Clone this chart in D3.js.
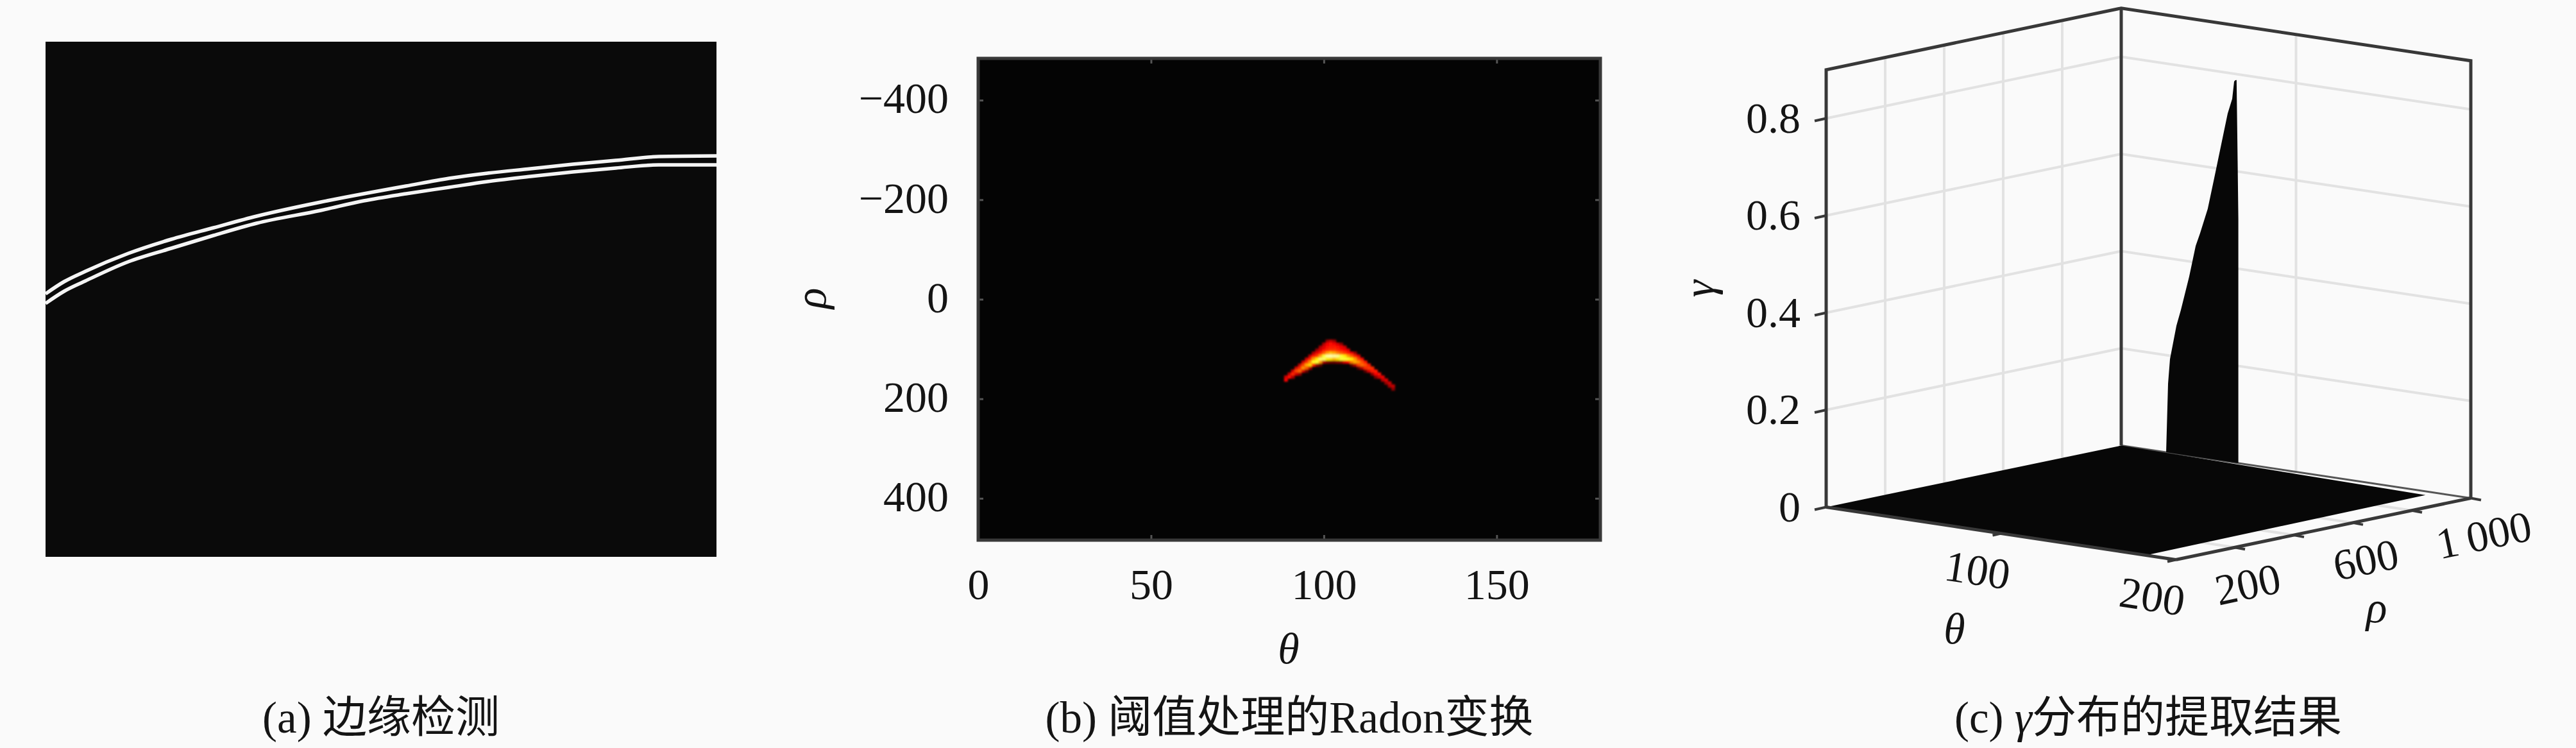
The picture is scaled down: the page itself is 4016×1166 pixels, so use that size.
<!DOCTYPE html>
<html><head><meta charset="utf-8">
<script src="https://cdn.jsdelivr.net/npm/d3@7"></script>
<style>
html,body{margin:0;padding:0;background:#fafafa;overflow:hidden}
svg{display:block}
text{font-family:"Liberation Serif","Noto Sans CJK SC",serif;fill:#141414}
.it{font-style:italic}
.domain{display:none}
</style></head><body>
<svg id="c" width="4016" height="1166"></svg>
<script>
// ---- panel (a): edge curves, image pixel coordinates
const edgeX      = [0,29,62,129,196,262,329,429,496,562,629,689,756,822,889,956,1046];
const edgeUpperY = [393,374,358,330,308,290,272,250,237,225,213,205,198,191,185,179,178];
const edgeLowerY = [408,389,373,343,322,302,283,263,248,237,227,218,210,203,197,192,192];
// ---- panel (b): thresholded Radon transform
const radonTheta = [89,90,91,92,93,94,95,96,97,98,99,100,101,102,103,104,105,106,107,108,109,110,111,112,113,114,115,116,117,118,119,120];
const radonStart = [156,150,144,138,132,126,120,114,108,102,96,90,84,84,84,90,90,96,102,108,108,114,120,126,132,138,144,150,156,162,168,174];
const radonValues = [
 [.3,.36],[.28,.38],[.3,.42,.25],[.3,.46,.3],[.28,.42,.52,.22],[.3,.45,.58,.3],
 [.3,.42,.62,.5,.15],[.28,.4,.58,.68,.25],[.25,.38,.6,.78,.4],[.22,.33,.45,.72,.8,.2],
 [.25,.3,.4,.6,.85,.6,.12],[.25,.32,.38,.5,.8,.85,.25],[.22,.35,.38,.42,.6,.9,.72,.18],
 [.28,.38,.4,.45,.65,.92,.7,.15],[.22,.35,.4,.45,.62,.9,.65,.15],[.3,.38,.42,.55,.88,.7,.18],
 [.2,.35,.38,.5,.8,.8,.2],[.3,.36,.45,.72,.8,.3],[.32,.4,.6,.78,.35],[.35,.5,.72,.55,.12],
 [.22,.4,.6,.62,.25],[.32,.45,.58,.45,.12],[.35,.48,.52,.25],[.38,.48,.42,.12],[.4,.45,.3],
 [.42,.4,.2],[.4,.36,.18],[.38,.3],[.34,.26],[.32,.22],[.3,.24],[.28,.2]];
const radonThetaTicks = [0,50,100,150];
const radonRhoTicks = [-400,-200,0,200,400];
// ---- panel (c): extracted gamma distribution
const gammaTicks = [0,0.2,0.4,0.6,0.8];
const gammaLabels = ["0","0.2","0.4","0.6","0.8"];
const thetaTicks3d = [100,200];
const rhoTicks3d = [200,400,600,800,1000];
const rhoLabels3d = ["200","","600","","1\u2009000"];
const surfaceTheta = [0,0,180,183];
const surfaceRho   = [0,1000,965,5];
const spikeRho = 1000;
const spikeTheta = [25.7,26.8,27.9,31.6,34.1,38.9,42.6,45.1,49.5,53.2,55.4,58.7,60.9,63.5,64.6,65.3,66,66.6,67,67];
const spikeGamma = [0,.142,.193,.264,.297,.369,.434,.461,.514,.579,.618,.677,.716,.748,.784,.787,.788,.622,.503,0];
const captions = ["(a) 边缘检测","(b) 阈值处理的Radon变换"];

const svg = d3.select("#c");
const FS = 68, CAP = 69, ink="#383838";

// ================= panel a
const ax = d3.scaleLinear().domain([0,1046]).range([71,1117]);
const ay = d3.scaleLinear().domain([0,803]).range([65,868]);
svg.append("clipPath").attr("id","ca").append("rect").attr("x",71).attr("y",65).attr("width",1046).attr("height",803);
svg.append("rect").attr("x",ax(0)).attr("y",ay(0)).attr("width",ax(1046)-ax(0)).attr("height",ay(803)-ay(0)).attr("fill","#0a0a0a");
const eg = svg.append("g").attr("clip-path","url(#ca)");
[edgeUpperY,edgeLowerY].forEach(ys=>{
  eg.append("path").attr("fill","none").attr("stroke","#f4f4f4").attr("stroke-width",5.5)
    .attr("d",d3.line().x((d,i)=>ax(edgeX[i])).y(d=>ay(d)).curve(d3.curveMonotoneX)(ys));
});

// ================= panel b
const bx = d3.scaleLinear().domain([0,180]).range([1525,2495]);
const by = d3.scaleLinear().domain([-484,484]).range([91,842]);
svg.append("rect").attr("x",bx(0)).attr("y",by(-484)).attr("width",bx(180)-bx(0)).attr("height",by(484)-by(-484)).attr("fill","#040404");
const defs = svg.append("defs");
defs.append("filter").attr("id","soft").attr("x","-20%").attr("y","-20%").attr("width","140%").attr("height","140%")
  .append("feGaussianBlur").attr("stdDeviation",1.8);
const hot = d3.scaleLinear().domain([0,.365,.746,1]).range(["#000","#f00","#ff0","#fff"]).clamp(true);
const RB = 6;
const hg = svg.append("g").attr("filter","url(#soft)");
radonTheta.forEach((t,i)=>{
  hg.selectAll(null).data(radonValues[i]).enter().append("rect")
    .attr("x",bx(t-.5)).attr("width",bx(1)-bx(0)+.5)
    .attr("y",(d,j)=>by(radonStart[i]+j*RB-RB/2)).attr("height",by(RB)-by(0)+.5)
    .attr("fill",d=>hot(d));
});
const bStyle = g=>{g.selectAll(".tick line").attr("stroke","#555").attr("stroke-width",3);
  g.selectAll("text").attr("font-size",FS).attr("fill","#141414");};
svg.append("g").attr("transform",`translate(0,${by(484)})`)
  .call(d3.axisBottom(bx).tickValues(radonThetaTicks).tickSize(-8).tickPadding(44).tickFormat(d3.format("d"))).call(bStyle);
svg.append("g").attr("transform",`translate(0,${by(-484)})`)
  .call(d3.axisTop(bx).tickValues(radonThetaTicks).tickSize(-8).tickFormat("")).call(bStyle);
svg.append("g").attr("transform",`translate(${bx(0)},0)`)
  .call(d3.axisLeft(by).tickValues(radonRhoTicks).tickSize(-8).tickPadding(46)
    .tickFormat(d=>d<0?"\u2212"+(-d):String(d))).call(bStyle)
  .selectAll("text").attr("dy","0.29em");
svg.append("g").attr("transform",`translate(${bx(180)},0)`)
  .call(d3.axisRight(by).tickValues(radonRhoTicks).tickSize(-8).tickFormat("")).call(bStyle);
svg.append("rect").attr("x",bx(0)).attr("y",by(-484)).attr("width",bx(180)-bx(0)).attr("height",by(484)-by(-484))
  .attr("fill","none").attr("stroke",ink).attr("stroke-width",5);
svg.append("text").attr("class","it").attr("x",2009).attr("y",1034).attr("text-anchor","middle").attr("font-size",FS).text("θ");
svg.append("text").attr("class","it").attr("transform","translate(1287,465) rotate(-90)").attr("text-anchor","middle").attr("font-size",FS).text("ρ");

// ================= panel c (orthographic projection built from linear scales)
const ox=2847, oy=790.5;
const tX = d3.scaleLinear().domain([0,200]).range([0,545]);
const tY = d3.scaleLinear().domain([0,200]).range([0,82]);
const rX = d3.scaleLinear().domain([0,1000]).range([0,460]);
const rY = d3.scaleLinear().domain([0,1000]).range([0,-96]);
const gY = d3.scaleLinear().domain([0,0.9]).range([0,-681.75]);
const P = (t,r,g=0)=>[ox+tX(t)+rX(r), oy+tY(t)+rY(r)+gY(g)];
const seg=(parent,a,b,col,w)=>parent.append("line").attr("x1",a[0]).attr("y1",a[1]).attr("x2",b[0]).attr("y2",b[1]).attr("stroke",col).attr("stroke-width",w);
const c = svg.append("g");
const grid="#e2e2e2";
gammaTicks.slice(1).forEach(g=>{
  c.append("polyline").attr("fill","none").attr("stroke",grid).attr("stroke-width",4)
   .attr("points",[P(0,0,g),P(0,1000,g),P(200,1000,g)].map(p=>p.join(",")).join(" "));
});
rhoTicks3d.slice(0,4).forEach(r=>{
  seg(c,P(0,r,0),P(0,r,.9),grid,4);
  seg(c,P(0,r,0),P(200,r,0),grid,4);
});
seg(c,P(100,1000,0),P(100,1000,.9),grid,4);
seg(c,P(100,0,0),P(100,1000,0),grid,4);
// thin back edge of floor
seg(c,P(0,1000),P(200,1000),"#555",3);
// surface
c.append("polygon").attr("fill","#070707").attr("points",surfaceTheta.map((t,i)=>P(t,surfaceRho[i]).join(",")).join(" "));
// frame
c.append("polyline").attr("fill","none").attr("stroke",ink).attr("stroke-width",5)
  .attr("points",[P(0,0,0),P(0,0,.9),P(0,1000,.9),P(200,1000,.9),P(200,1000,0)].map(p=>p.join(",")).join(" "));
seg(c,P(0,1000,0),P(0,1000,.9),ink,5);
// spike
c.append("polygon").attr("fill","#070707")
  .attr("points",spikeTheta.map((t,i)=>P(t,spikeRho,spikeGamma[i]).join(",")).join(" "));
// axes
seg(c,P(0,0),P(200,0),ink,5);
seg(c,P(200,0),P(200,1000),ink,5);
gammaTicks.forEach((g,i)=>{
  const p=P(0,0,g);
  seg(c,p,[p[0]-18,p[1]+4],ink,4);
  c.append("text").attr("x",p[0]-40).attr("y",p[1]+22).attr("text-anchor","end").attr("font-size",FS).text(gammaLabels[i]);
});
thetaTicks3d.forEach(t=>{
  const p=P(t,0);
  seg(c,p,[p[0]-13,p[1]+3],ink,4);
  c.append("text").attr("transform",`translate(${p[0]-40},${p[1]+80}) rotate(8.6)`).attr("text-anchor","middle").attr("font-size",FS).text(t);
});
rhoTicks3d.forEach((r,i)=>{
  const p=P(200,r);
  seg(c,p,[p[0]+16,p[1]+3],ink,4);
  c.append("text").attr("transform",`translate(${p[0]+25},${p[1]+80}) rotate(-11.8)`).attr("text-anchor","middle").attr("font-size",FS).text(rhoLabels3d[i]);
});
c.append("text").attr("class","it").attr("transform","translate(2672,450) rotate(-90)").attr("text-anchor","middle").attr("font-size",FS).text("γ");
c.append("text").attr("class","it").attr("x",3047).attr("y",1003).attr("text-anchor","middle").attr("font-size",FS).text("θ");
c.append("text").attr("class","it").attr("x",3705).attr("y",970).attr("text-anchor","middle").attr("font-size",FS).text("ρ");

// ================= captions
const capY=1142;
svg.append("text").attr("x",594).attr("y",capY).attr("text-anchor","middle").attr("font-size",CAP).text(captions[0]);
svg.append("text").attr("x",2010).attr("y",capY).attr("text-anchor","middle").attr("font-size",CAP).text(captions[1]);
const t3=svg.append("text").attr("x",3349).attr("y",capY).attr("text-anchor","middle").attr("font-size",CAP);
t3.append("tspan").text("(c) ");
t3.append("tspan").attr("class","it").text("γ");
t3.append("tspan").text("分布的提取结果");
</script></body></html>
